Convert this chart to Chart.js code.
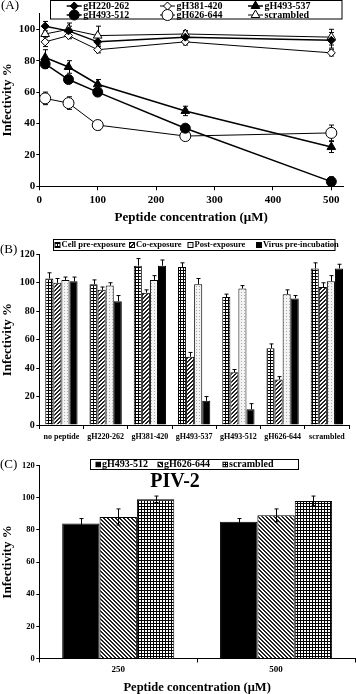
<!DOCTYPE html>
<html>
<head>
<meta charset="utf-8">
<script src="https://cdn.jsdelivr.net/npm/chart.js@4.4.1/dist/chart.umd.min.js"></script>
<style>
  html, body { margin: 0; padding: 0; background: #fff; }
  #wrap { position: relative; width: 356px; height: 694px; }
  .panel { position: absolute; left: 0; width: 356px; }
</style>
</head>
<body>
<div id="wrap">
  <div class="panel" style="top:0;height:225px"><canvas id="chartA"></canvas></div>
  <div class="panel" style="top:225px;height:218px"><canvas id="chartB"></canvas></div>
  <div class="panel" style="top:443px;height:251px"><canvas id="chartC"></canvas></div>
</div>
<script>
// ---- Panel A: infectivity vs peptide concentration ----
const concentrations = [10, 50, 100, 250, 500];
const gH220_262 = [102, 99, 92, 95, 93];
const gH220_262Err = [3, 3, 4, 4, 5];
const gH381_420 = [92, 96, 87, 92, 85];
const gH381_420Err = [3, 2, 2, 2, 2];
const gH493_537 = [82, 76, 65, 48, 25];
const gH493_537Err = [5, 4, 3, 3, 3.5];
const gH493_512 = [78, 68, 60, 37, 3];
const gH493_512Err = [3, 1, 1, 1, 3];
const gH626_644 = [56, 53, 39, 32, 34];
const gH626_644Err = [4, 4, 3, 2, 5];
const scrambledA = [97, 100, 96, 97, 95];
const scrambledAErr = [4, 4, 6, 2, 5];
const xTicksA = [0, 100, 200, 300, 400, 500];
const yTicksA = [0, 20, 40, 60, 80, 100];

// ---- Panel B: exposure protocols ----
const groupsB = ['no peptide', 'gH220-262', 'gH381-420', 'gH493-537', 'gH493-512', 'gH626-644', 'scrambled'];
const cellPre = [103, 99, 112, 111, 90, 54, 110];
const cellPreErr = [4, 3, 5, 3, 2, 3, 4];
const coExp = [100, 95, 93, 48, 37, 32, 97];
const coExpErr = [3, 2, 2, 3, 2, 2, 3];
const postExp = [102, 98, 102, 99, 96, 92, 101];
const postExpErr = [2, 2, 3, 4, 2, 3, 4];
const virusPre = [101, 87, 112, 17, 11, 89, 110];
const virusPreErr = [3, 4, 4, 3, 4, 2, 3];

// ---- Panel C: PIV-2 ----
const dosesC = ['250', '500'];
const c493_512 = [84, 85];
const c493_512Err = [3, 2];
const c626_644 = [88, 89];
const c626_644Err = [5, 4];
const cScrambled = [99, 98];
const cScrambledErr = [2, 3];

const SERIF = "'Liberation Serif', 'Times New Roman', serif";
Chart.defaults.font.family = SERIF;
Chart.defaults.color = '#000';

function makePattern(kind) {
    const c = document.createElement('canvas');
    const g = c.getContext('2d');
    if (kind === 'grid') {
        c.width = c.height = 3;
        g.fillStyle = '#fff'; g.fillRect(0, 0, 3, 3);
        g.fillStyle = '#000'; g.fillRect(0, 0, 3, 1); g.fillRect(0, 0, 1, 3);
    } else if (kind === 'hatchUp' || kind === 'hatchDown') {
        c.width = c.height = 4;
        g.fillStyle = '#fff'; g.fillRect(0, 0, 4, 4);
        g.fillStyle = '#222';
        for (let i = 0; i < 4; i++) {
            const x = kind === 'hatchUp' ? 3 - i : i;
            g.fillRect(x, i, 1, 1);
            g.fillRect((x + 1) % 4, i, 1, 1);
        }
    } else {
        c.width = c.height = 3;
        g.fillStyle = '#f4f4f4'; g.fillRect(0, 0, 3, 3);
        g.fillStyle = '#aaa'; g.fillRect(1, 1, 1, 1);
    }
    return g.createPattern(c, 'repeat');
}

// draws error bars from dataset.errors through the y scale
const errorBars = {
    id: 'errorBars',
    draw(chart, opts) {
        const ctx = chart.ctx;
        const yScale = chart.scales.y;
        ctx.save();
        ctx.strokeStyle = '#000';
        ctx.lineWidth = 1;
        chart.data.datasets.forEach((ds, i) => {
            if (!ds.errors) return;
            chart.getDatasetMeta(i).data.forEach((el, j) => {
                const raw = ds.data[j];
                const v = typeof raw === 'object' ? raw.y : raw;
                const e = ds.errors[j];
                const x = Math.round(el.x) + 0.5;
                const hi = yScale.getPixelForValue(v + e);
                const lo = opts.upperOnly ? yScale.getPixelForValue(v) : yScale.getPixelForValue(v - e);
                ctx.beginPath();
                ctx.moveTo(x, hi); ctx.lineTo(x, lo);
                ctx.moveTo(x - opts.cap, hi); ctx.lineTo(x + opts.cap, hi);
                if (!opts.upperOnly) { ctx.moveTo(x - opts.cap, lo); ctx.lineTo(x + opts.cap, lo); }
                ctx.stroke();
            });
        });
        ctx.restore();
    },
    beforeDatasetsDraw(chart, args, opts) { if (opts.before) this.draw(chart, opts); },
    afterDatasetsDraw(chart, args, opts) { if (!opts.before) this.draw(chart, opts); }
};

// boxed legend and panel labels
const panelDecor = {
    id: 'panelDecor',
    afterDraw(chart, args, opts) {
        const ctx = chart.ctx;
        ctx.save();
        ctx.textBaseline = 'middle';
        (opts.texts || []).forEach(t => {
            ctx.font = t.font;
            ctx.fillStyle = '#000';
            ctx.textAlign = t.align || 'left';
            ctx.fillText(t.text, t.x, t.y);
        });
        const lg = opts.legend;
        if (lg) {
            const [bx, by, bw, bh] = lg.box;
            ctx.fillStyle = '#fff';
            ctx.fillRect(bx, by, bw, bh);
            ctx.strokeStyle = '#000';
            ctx.lineWidth = 1;
            ctx.strokeRect(bx, by, bw, bh);
            ctx.font = lg.font;
            ctx.textAlign = 'left';
            chart.data.datasets.forEach((ds, i) => {
                const [x, y] = lg.items[i];
                let tx;
                if (lg.kind === 'line') {
                    ctx.beginPath();
                    ctx.moveTo(x, y); ctx.lineTo(x + lg.lineLen, y);
                    ctx.strokeStyle = ds.borderColor;
                    ctx.lineWidth = ds.borderWidth;
                    ctx.stroke();
                    ctx.fillStyle = ds.pointBackgroundColor;
                    ctx.strokeStyle = ds.pointBorderColor;
                    ctx.lineWidth = ds.pointBorderWidth;
                    Chart.helpers.drawPoint(ctx, {
                        pointStyle: ds.pointStyle, rotation: 0,
                        radius: ds.pointRadius, borderWidth: ds.pointBorderWidth
                    }, x + lg.lineLen / 2, y);
                    tx = x + lg.lineLen + 1.5;
                } else {
                    const s = lg.size;
                    ctx.fillStyle = ds.backgroundColor;
                    ctx.fillRect(x, y - s / 2, s, s);
                    ctx.strokeStyle = '#000';
                    ctx.lineWidth = 1;
                    ctx.strokeRect(x, y - s / 2, s, s);
                    tx = x + s + 1.5;
                }
                ctx.fillStyle = '#000';
                ctx.fillText(ds.label, tx, y);
            });
        }
        ctx.restore();
    }
};

Chart.register(errorBars, panelDecor);

function axisGrid(len) {
    return { display: true, drawOnChartArea: false, drawTicks: true, tickLength: len, color: '#000' };
}
const blackBorder = { display: true, color: '#000', width: 1 };

// ---------- Chart A ----------
function lineSet(label, values, errs, style, radius, filled, width) {
    return {
        label: label,
        data: values.map((v, i) => ({ x: concentrations[i], y: v })),
        errors: errs,
        borderColor: '#000',
        borderWidth: width,
        pointStyle: style,
        pointRadius: radius,
        pointHoverRadius: radius,
        pointBackgroundColor: filled ? '#000' : '#fff',
        pointBorderColor: '#000',
        pointBorderWidth: 1,
        fill: false,
        tension: 0
    };
}

new Chart(document.getElementById('chartA'), {
    type: 'line',
    data: {
        datasets: [
            lineSet('gH220-262', gH220_262, gH220_262Err, 'rectRot', 4, true, 1.5),
            lineSet('gH381-420', gH381_420, gH381_420Err, 'rectRot', 4, false, 1),
            lineSet('gH493-537', gH493_537, gH493_537Err, 'triangle', 5, true, 1.5),
            lineSet('gH493-512', gH493_512, gH493_512Err, 'circle', 5, true, 1.5),
            lineSet('gH626-644', gH626_644, gH626_644Err, 'circle', 5.5, false, 1),
            lineSet('scrambled', scrambledA, scrambledAErr, 'triangle', 5, false, 1)
        ]
    },
    options: {
        animation: false,
        responsive: true,
        maintainAspectRatio: false,
        layout: { padding: { left: 0, right: 13, top: 13.6, bottom: 0 } },
        plugins: {
            legend: { display: false },
            tooltip: { enabled: false },
            errorBars: { cap: 2.5, before: true },
            panelDecor: {
                texts: [{ text: '(A)', x: 1, y: 6, font: '13px ' + SERIF }],
                legend: {
                    kind: 'line', box: [50.5, 0.5, 291.5, 18.5], lineLen: 15,
                    font: 'bold 10px ' + SERIF,
                    items: [[66.7, 6], [160, 6], [248, 6], [66.7, 15], [160, 15], [248, 15]]
                }
            }
        },
        scales: {
            x: {
                type: 'linear', min: 0, max: 520,
                afterBuildTicks: s => { s.ticks = xTicksA.map(v => ({ value: v })); },
                afterFit: s => { s.height = 38.7; },
                grid: axisGrid(4), border: blackBorder,
                ticks: { font: { size: 11, weight: 'bold' }, color: '#000', padding: 3, maxRotation: 0 },
                title: { display: true, text: 'Peptide concentration (\u03bcM)', color: '#000',
                         font: { size: 13, weight: 'bold' }, padding: { top: 0, bottom: 0 } }
            },
            y: {
                min: 0, max: 110,
                afterBuildTicks: s => { s.ticks = yTicksA.map(v => ({ value: v })); },
                afterFit: s => { s.width = 39.3; },
                grid: axisGrid(3), border: blackBorder,
                ticks: { font: { size: 11, weight: 'bold' }, color: '#000', padding: 1 },
                title: { display: true, text: 'Infectivity %', color: '#000',
                         font: { size: 13, weight: 'bold' }, padding: 0 }
            }
        }
    }
});

// ---------- Chart B ----------
function barSet(label, values, errs, fill) {
    return { label: label, data: values, errors: errs, backgroundColor: fill,
             borderColor: '#000', borderWidth: 1 };
}

new Chart(document.getElementById('chartB'), {
    type: 'bar',
    data: {
        labels: groupsB,
        datasets: [
            barSet('Cell pre-exposure', cellPre, cellPreErr, makePattern('grid')),
            barSet('Co-exposure', coExp, coExpErr, makePattern('hatchUp')),
            barSet('Post-exposure', postExp, postExpErr, makePattern('dots')),
            barSet('Virus pre-incubation', virusPre, virusPreErr, '#000')
        ]
    },
    options: {
        animation: false,
        responsive: true,
        maintainAspectRatio: false,
        datasets: { bar: { categoryPercentage: 0.73, barPercentage: 1 } },
        layout: { padding: { left: 0, right: 7, top: 29.3, bottom: 0 } },
        plugins: {
            legend: { display: false },
            tooltip: { enabled: false },
            errorBars: { cap: 2, upperOnly: true },
            panelDecor: {
                texts: [{ text: '(B)', x: 0, y: 25, font: '13px ' + SERIF }],
                legend: {
                    kind: 'box', box: [53.5, 14.5, 281.5, 11], size: 5,
                    font: 'bold 8.5px ' + SERIF,
                    items: [[55, 20], [129.5, 20], [188, 20], [256.5, 20]]
                }
            }
        },
        scales: {
            x: {
                afterFit: s => { s.height = 18; },
                grid: Object.assign(axisGrid(4), { offset: true }), border: blackBorder,
                ticks: { font: { size: 8, weight: 'bold' }, color: '#000', padding: 3,
                         maxRotation: 0, autoSkip: false }
            },
            y: {
                min: 0, max: 120,
                afterFit: s => { s.width = 39.3; },
                grid: axisGrid(3), border: blackBorder,
                ticks: { stepSize: 20, font: { size: 10, weight: 'bold' }, color: '#000', padding: 1.5 },
                title: { display: true, text: 'Infectivity %', color: '#000',
                         font: { size: 13, weight: 'bold' }, padding: 0 }
            }
        }
    }
});

// ---------- Chart C ----------
new Chart(document.getElementById('chartC'), {
    type: 'bar',
    data: {
        labels: dosesC,
        datasets: [
            barSet('gH493-512', c493_512, c493_512Err, '#000'),
            barSet('gH626-644', c626_644, c626_644Err, makePattern('hatchDown')),
            barSet('scrambled', cScrambled, cScrambledErr, makePattern('grid'))
        ]
    },
    options: {
        animation: false,
        responsive: true,
        maintainAspectRatio: false,
        datasets: { bar: { categoryPercentage: 0.71, barPercentage: 1 } },
        layout: { padding: { left: 0, right: 1, top: 22.5, bottom: 0 } },
        plugins: {
            legend: { display: false },
            tooltip: { enabled: false },
            errorBars: { cap: 2 },
            panelDecor: {
                texts: [
                    { text: '(C)', x: 0, y: 22, font: '13px ' + SERIF },
                    { text: 'PIV-2', x: 175, y: 39, font: 'bold 20px ' + SERIF, align: 'center' }
                ],
                legend: {
                    kind: 'box', box: [90.5, 16.5, 208, 10], size: 4.5,
                    font: 'bold 10px ' + SERIF,
                    items: [[96, 21.5], [158, 21.5], [223, 21.5]]
                }
            }
        },
        scales: {
            x: {
                afterFit: s => { s.height = 35.5; },
                grid: Object.assign(axisGrid(4), { offset: true }), border: blackBorder,
                ticks: { font: { size: 9, weight: 'bold' }, color: '#000', padding: 2, maxRotation: 0 },
                title: { display: true, text: 'Peptide concentration (\u03bcM)', color: '#000',
                         font: { size: 12.5, weight: 'bold', lineHeight: 1 }, padding: 0 }
            },
            y: {
                min: 0, max: 120,
                afterFit: s => { s.width = 39.3; },
                grid: axisGrid(3), border: blackBorder,
                ticks: { stepSize: 20, font: { size: 8.5, weight: 'bold' }, color: '#000', padding: 1.5 },
                title: { display: true, text: 'Infectivity %', color: '#000',
                         font: { size: 13, weight: 'bold' }, padding: 0 }
            }
        }
    }
});
</script>
</body>
</html>
